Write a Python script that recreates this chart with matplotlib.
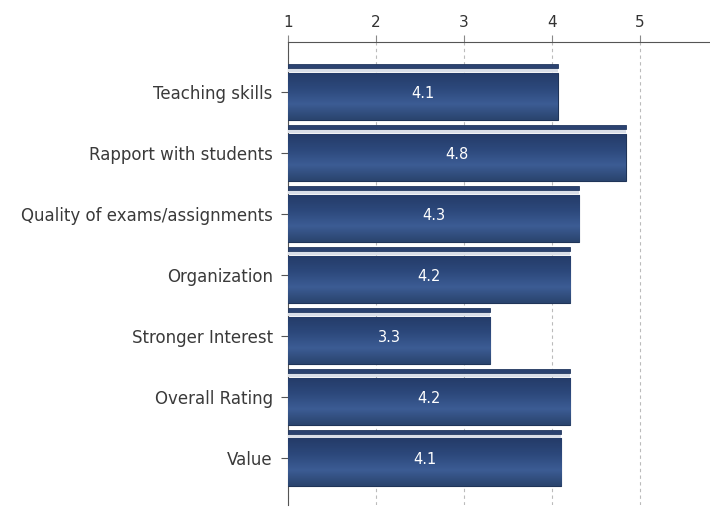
import numpy as np
import matplotlib
matplotlib.use("Agg")
import matplotlib.pyplot as plt

plt.rcParams["font.family"] = ["DejaVu Sans"]

categories = ["Teaching skills", "Rapport with students", "Quality of exams/assignments",
              "Organization", "Stronger Interest", "Overall Rating", "Value"]
scores = [4.07, 4.84, 4.31, 4.21, 3.30, 4.21, 4.11]
labels = ["4.1", "4.8", "4.3", "4.2", "3.3", "4.2", "4.1"]
x_ticks = [1, 2, 3, 4, 5]

fig = plt.figure(figsize=(7.10, 5.07), dpi=100)
ax = fig.add_axes([0.4056, 0.004, 0.5944, 0.913])

ypos = np.arange(len(categories))
widths = np.array(scores) - 1

# main bars with a vertical gradient
bars = ax.barh(ypos + 0.07, widths, left=1, height=0.78, color="#2e4a7b",
               edgecolor="#1f3458", linewidth=0.8, zorder=3)
grad = np.linspace(0, 1, 64).reshape(-1, 1)
cmap = matplotlib.colors.LinearSegmentedColormap.from_list(
    "bar", ["#243b68", "#2c487b", "#3c5c94", "#2a446e"])
for b in bars:
    x0, y0 = b.get_x(), b.get_y()
    im = ax.imshow(grad, cmap=cmap, aspect="auto", zorder=3.5,
                   extent=[x0, x0 + b.get_width(), y0 + b.get_height(), y0])
    im.set_clip_path(b)

# thin top strip + light highlight line
ax.barh(ypos - 0.43, widths, left=1, height=0.075, color="#2b4270",
        edgecolor="#233960", linewidth=0.6, zorder=3)
ax.barh(ypos - 0.355, widths, left=1, height=0.05, color="#d9dee8",
        linewidth=0, zorder=3)

for y, s, t in zip(ypos, scores, labels):
    ax.text((1 + s) / 2, y + 0.02, t, color="white", ha="center", va="center",
            fontsize=10.5, zorder=5)

ax.set_xlim(1, 5.8)
ax.set_ylim(6.77, -0.82)
ax.set_xticks(x_ticks)
ax.set_xticklabels([str(v) for v in x_ticks], fontsize=11, color="#333333")
ax.xaxis.tick_top()
ax.set_yticks(ypos)
ax.set_yticklabels(categories, fontsize=12, color="#3a3a3a")
ax.tick_params(axis="x", length=5, color="#888888", pad=4)
ax.tick_params(axis="y", length=5, color="#555555", pad=6)
ax.grid(axis="x", linestyle=(0, (3, 3)), color="#bbbbbb", linewidth=0.8, zorder=0)

ax.spines["right"].set_visible(False)
ax.spines["bottom"].set_visible(False)
ax.spines["top"].set_color("#555555")
ax.spines["left"].set_color("#555555")

fig.savefig("out.png", dpi=100)
